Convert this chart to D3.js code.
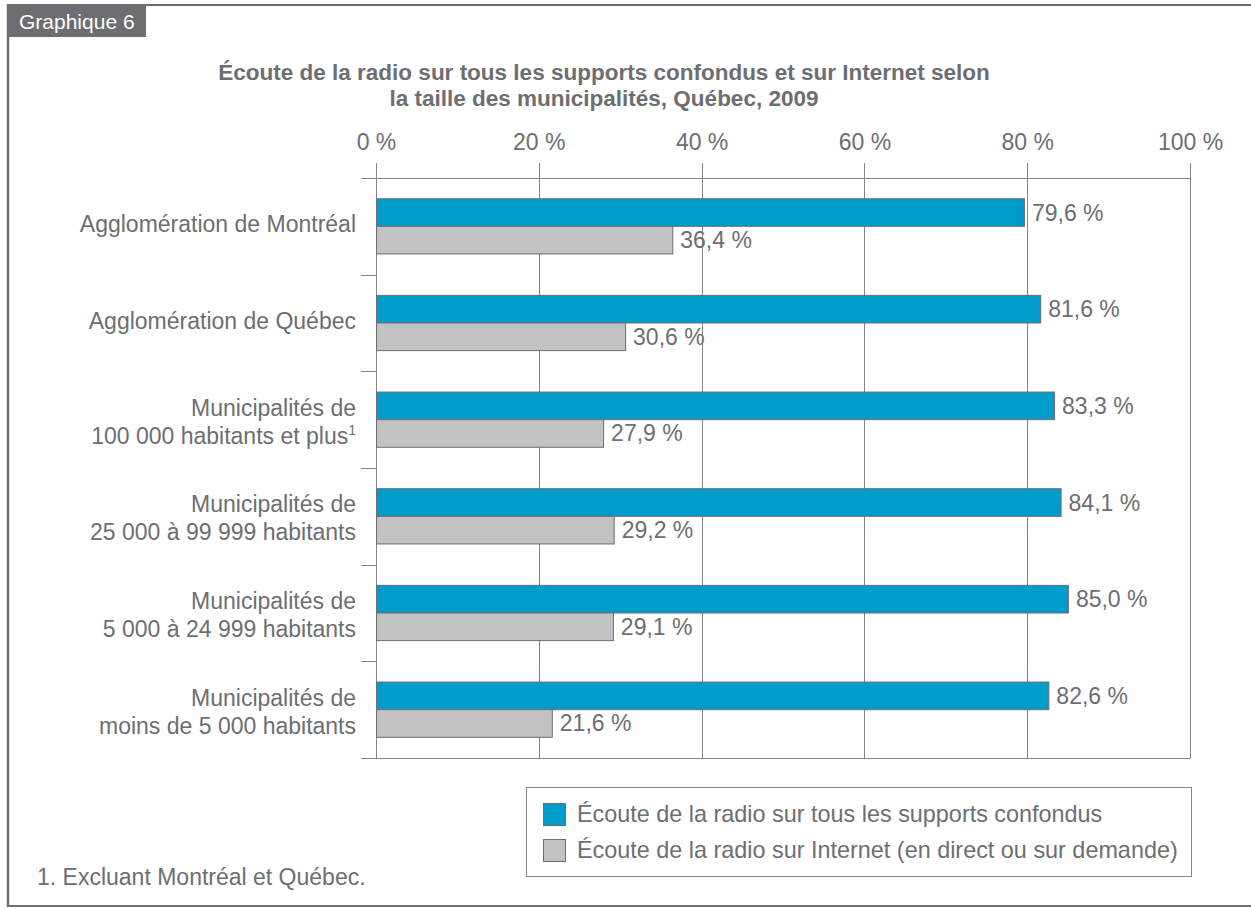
<!DOCTYPE html>
<html><head><meta charset="utf-8">
<script src="https://cdn.jsdelivr.net/npm/d3@7"></script>
<style>
body{margin:0;background:#fff}
svg{display:block}
text{font-family:"Liberation Sans",Arial,Helvetica,sans-serif;fill:#6d6e71}
</style>
</head><body>
<svg id="c" width="1251" height="909"></svg>
<script>
// ---- data ----
const categories = [
  "Agglomération de Montréal",
  "Agglomération de Québec",
  "Municipalités de|100 000 habitants et plus",
  "Municipalités de|25 000 à 99 999 habitants",
  "Municipalités de|5 000 à 24 999 habitants",
  "Municipalités de|moins de 5 000 habitants"
];
const footnoteMarks = ["", "", "1", "", "", ""];
const seriesNames = [
  "Écoute de la radio sur tous les supports confondus",
  "Écoute de la radio sur Internet (en direct ou sur demande)"
];
const allSupports = [79.6, 81.6, 83.3, 84.1, 85.0, 82.6];
const internet    = [36.4, 30.6, 27.9, 29.2, 29.1, 21.6];
const xTicks = [0, 20, 40, 60, 80, 100];
const titleLines = [
  "Écoute de la radio sur tous les supports confondus et sur Internet selon",
  "la taille des municipalités, Québec, 2009"
];
const footnote = "1. Excluant Montréal et Québec.";
const tabLabel = "Graphique 6";

// ---- styles ----
const colors = ["#009ccb", "#c2c2c4"];
const textCol = "#6d6e71";
const gridCol = "#858587";
const FS = 23;

const svg = d3.select("#c");

// frame
svg.append("line").attr("x1", 7).attr("x2", 1251).attr("y1", 5).attr("y2", 5)
  .attr("stroke", textCol).attr("stroke-width", 2);
svg.append("line").attr("x1", 8).attr("x2", 8).attr("y1", 4).attr("y2", 907)
  .attr("stroke", textCol).attr("stroke-width", 2.5);
svg.append("line").attr("x1", 7).attr("x2", 1251).attr("y1", 906).attr("y2", 906)
  .attr("stroke", textCol).attr("stroke-width", 2);
svg.append("rect").attr("x", 7).attr("y", 5).attr("width", 139).attr("height", 32)
  .attr("fill", textCol);
svg.append("text").attr("x", 19).attr("y", 29).text(tabLabel)
  .style("fill", "#fff").style("font-size", "21px");

// title
svg.append("g").selectAll("text").data(titleLines).join("text")
  .attr("x", 604).attr("y", (d, i) => 80 + i * 25.5)
  .attr("text-anchor", "middle")
  .style("font-size", "22.5px").style("font-weight", "bold")
  .text(d => d);

// scales
const x = d3.scaleLinear().domain([0, 100]).range([376, 1190]);
const y = d3.scaleBand().domain(categories).range([178, 758]);
const inner = d3.scaleBand().domain([0, 1]).range([0, y.bandwidth()])
  .paddingInner(0).paddingOuter(0.75);

// gridlines
svg.append("g").selectAll("line").data(xTicks).join("line")
  .attr("x1", d => Math.round(x(d)) + 0.5).attr("x2", d => Math.round(x(d)) + 0.5)
  .attr("y1", 163).attr("y2", 758)
  .attr("stroke", gridCol).attr("stroke-width", 1);
// top & bottom axis lines
[178, 758].forEach(v => {
  svg.append("line").attr("x1", 361).attr("x2", x(100) + 0.5)
    .attr("y1", v + 0.5).attr("y2", v + 0.5)
    .attr("stroke", gridCol).attr("stroke-width", 1);
});
// category separators
const seps = categories.slice(1).map(c => y(c));
svg.append("g").selectAll("line").data(seps).join("line")
  .attr("x1", 361).attr("x2", x(0))
  .attr("y1", d => Math.round(d) + 0.5).attr("y2", d => Math.round(d) + 0.5)
  .attr("stroke", gridCol).attr("stroke-width", 1);

// top axis labels
const ax = svg.append("g").attr("transform", "translate(0,150)")
  .call(d3.axisTop(x).tickValues(xTicks).tickSize(0).tickPadding(0)
    .tickFormat(d => d + " %"));
ax.select(".domain").remove();
ax.selectAll("text").style("font-size", FS + "px").style("fill", textCol)
  .attr("font-family", null).attr("dy", 0);

// bars
const series = [allSupports, internet];
const fmt = v => d3.format(".1f")(v).replace(".", ",") + " %";
series.forEach((vals, si) => {
  const g = svg.append("g");
  g.selectAll("rect").data(vals).join("rect")
    .attr("x", x(0) + 0.5)
    .attr("y", (d, i) => y(categories[i]) + inner(si))
    .attr("width", d => x(d) - x(0))
    .attr("height", inner.bandwidth())
    .attr("fill", colors[si])
    .attr("stroke", "#6d6e71").attr("stroke-width", 1);
  g.selectAll("text").data(vals).join("text")
    .attr("x", d => x(d) + 8)
    .attr("y", (d, i) => y(categories[i]) + inner(si) + inner.bandwidth() / 2 + 8)
    .style("font-size", FS + "px")
    .text(d => fmt(d));
});

// category labels
categories.forEach((c, i) => {
  const lines = c.split("|");
  const cy = y(c) + y.bandwidth() / 2;
  lines.forEach((ln, li) => {
    const base = lines.length === 1 ? cy + 6 : cy - 4 + li * 28;
    const t = svg.append("text").attr("x", 356).attr("y", base)
      .attr("text-anchor", "end").style("font-size", FS + "px");
    t.append("tspan").text(ln);
    if (li === lines.length - 1 && footnoteMarks[i]) {
      t.append("tspan").attr("dy", -9).style("font-size", "14px").text(footnoteMarks[i]);
    }
  });
});

// legend
svg.append("rect").attr("x", 526.5).attr("y", 787.5).attr("width", 665).attr("height", 89)
  .attr("fill", "none").attr("stroke", gridCol).attr("stroke-width", 1);
const lg = svg.append("g").selectAll("g").data(seriesNames).join("g")
  .attr("transform", (d, i) => `translate(0,${803 + i * 36})`);
lg.append("rect").attr("x", 543.5).attr("y", 0.5).attr("width", 22).attr("height", 22)
  .attr("fill", (d, i) => colors[i]).attr("stroke", "#6d6e71").attr("stroke-width", 1);
lg.append("text").attr("x", 577).attr("y", 19).style("font-size", "23.4px").text(d => d);

// footnote
svg.append("text").attr("x", 37).attr("y", 885).style("font-size", FS + "px").text(footnote);
</script>
</body></html>
